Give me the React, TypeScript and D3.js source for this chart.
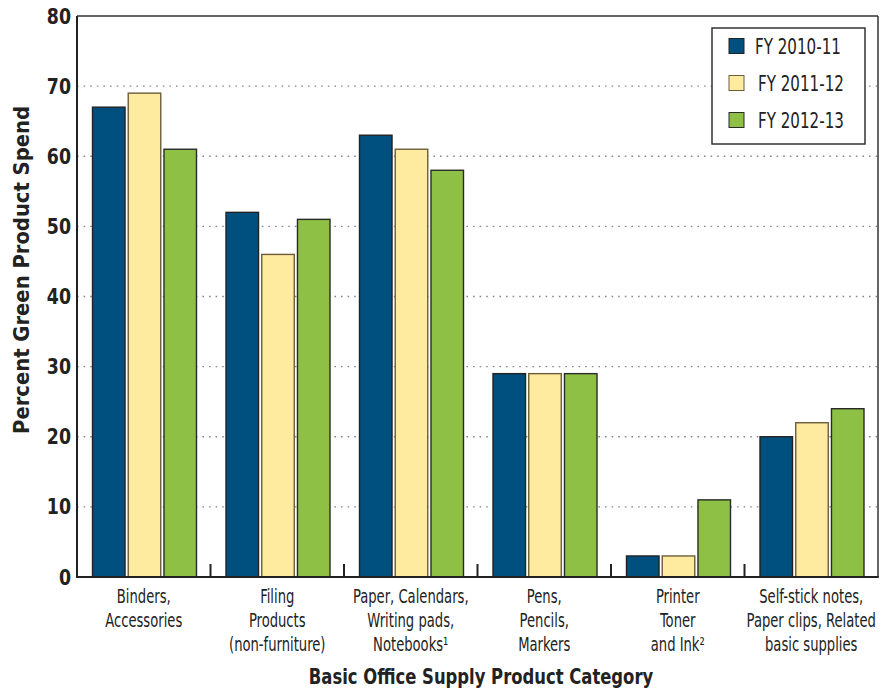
import React from "react";
import * as d3 from "d3";

const categories = [
  ["Binders,", "Accessories"],
  ["Filing", "Products", "(non-furniture)"],
  ["Paper, Calendars,", "Writing pads,", "Notebooks¹"],
  ["Pens,", "Pencils,", "Markers"],
  ["Printer", "Toner", "and Ink²"],
  ["Self-stick notes,", "Paper clips, Related", "basic supplies"],
];
const seriesNames = ["FY 2010-11", "FY 2011-12", "FY 2012-13"];
const fy1011 = [67, 52, 63, 29, 3, 20];
const fy1112 = [69, 46, 61, 29, 3, 22];
const fy1213 = [61, 51, 58, 29, 11, 24];
const yTicks = [0, 10, 20, 30, 40, 50, 60, 70, 80];
const colors = ["#00507f", "#feeba0", "#8dc044"];
const strokes = ["#222", "#6b5e3a", "#2a2a2a"];

const FONT = "'DejaVu Sans Condensed', 'DejaVu Sans', sans-serif";

function CText({ x, y, sx = 0.82, rotate = 0, children, ...rest }: any) {
  return (
    <text transform={`translate(${x},${y}) rotate(${rotate}) scale(${sx},1)`} {...rest}>
      {children}
    </text>
  );
}

export default function App() {
  const W = 896, H = 696;
  const left = 77, right = 878, top = 16, bottom = 577;
  const series = [fy1011, fy1112, fy1213];
  const idx = categories.map((_, i) => String(i));
  const x = d3.scaleBand().domain(idx).range([left, right]).padding(0);
  const inner = d3.scaleBand().domain(["0", "1", "2"]).range([15.5, 119.5]).paddingInner(0.09).paddingOuter(0);
  const y = d3.scaleLinear().domain([0, 80]).range([bottom, top]);

  return (
    <svg width={W} height={H} style={{ position: "absolute", left: 0, top: 0, background: "#fff" }} fontFamily={FONT}>
      {yTicks.filter(t => t > 0 && t < 80).map(t => (
        <line key={t} x1={left} x2={right} y1={y(t)} y2={y(t)} stroke="#888" strokeWidth={1.4} strokeDasharray="1.6,5" />
      ))}
      {series.map((s, si) =>
        s.map((v, ci) => (
          <rect key={`${si}-${ci}`}
            x={(x(String(ci)) as number) + (inner(String(si)) as number)}
            y={y(v)}
            width={inner.bandwidth()}
            height={y(0) - y(v)}
            fill={colors[si]} stroke={strokes[si]} strokeWidth={1.4} />
        ))
      )}
      <line x1={left} x2={right} y1={top} y2={top} stroke="#333" strokeWidth={1.5} />
      <line x1={right} x2={right} y1={top} y2={bottom} stroke="#333" strokeWidth={1.5} />
      <line x1={left} x2={left} y1={top} y2={bottom} stroke="#222" strokeWidth={2} />
      <line x1={left - 1} x2={right + 0.75} y1={bottom} y2={bottom} stroke="#222" strokeWidth={2.2} />
      {idx.slice(1).map(i => (
        <line key={i} x1={x(i) as number} x2={x(i) as number} y1={bottom - 13} y2={bottom} stroke="#222" strokeWidth={2} />
      ))}
      {yTicks.map(t => (
        <CText key={t} x={71} y={y(t) + 7.5} sx={0.92} textAnchor="end" fontSize={21} fontWeight="bold" fill="#222">{t}</CText>
      ))}
      {categories.map((lines, i) =>
        lines.map((l, li) => (
          <CText key={`${i}-${li}`} x={(x(String(i)) as number) + x.bandwidth() / 2} y={603 + li * 24}
            sx={0.77} textAnchor="middle" fontSize={19} fill="#222">{l}</CText>
        ))
      )}
      <CText x={481} y={684} sx={0.83} textAnchor="middle" fontSize={22} fontWeight="bold" fill="#222">Basic Office Supply Product Category</CText>
      <CText x={29} y={270} rotate={-90} sx={0.99} textAnchor="middle" fontSize={22} fontWeight="bold" fill="#222">Percent Green Product Spend</CText>
      <rect x={712} y={28} width={153} height={116} fill="#fff" stroke="#333" strokeWidth={1.5} />
      {seriesNames.map((n, i) => (
        <g key={n} transform={`translate(729, ${46 + i * 37})`}>
          <rect x={0} y={-7.5} width={15} height={15} fill={colors[i]} stroke={strokes[i]} strokeWidth={1} />
          <CText x={26 + (i > 0 ? 3 : 0)} y={8} sx={0.82} fontSize={20.5} fill="#222">{n}</CText>
        </g>
      ))}
    </svg>
  );
}
